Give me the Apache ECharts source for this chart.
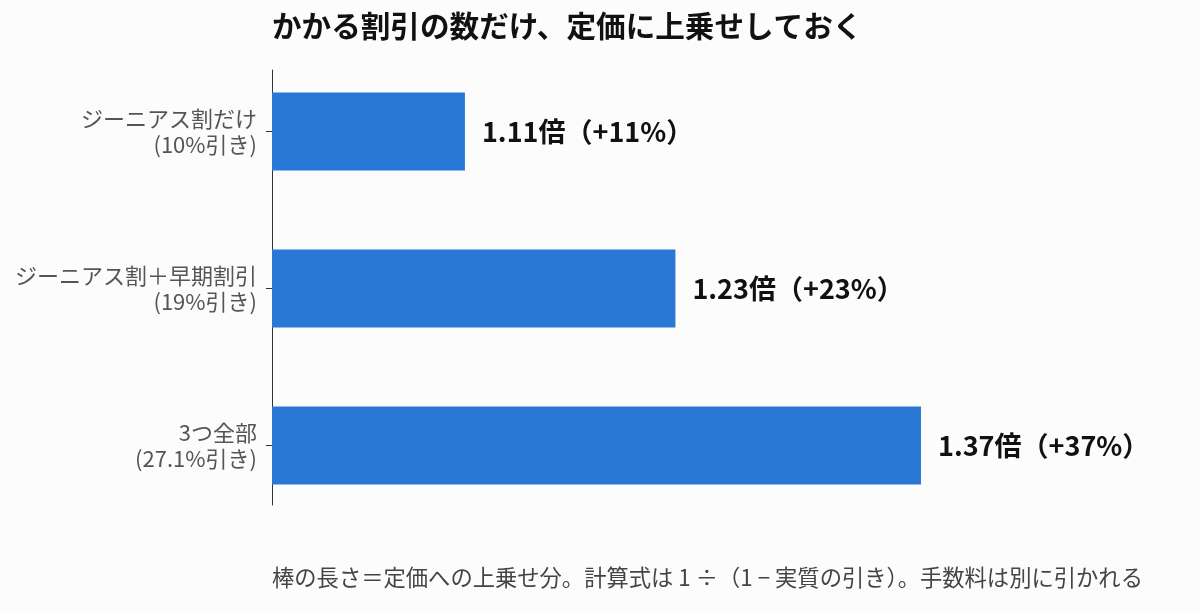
<!DOCTYPE html>
<html>
<head>
<meta charset="utf-8">
<script src="https://cdn.jsdelivr.net/npm/echarts@6/dist/echarts.min.js"></script>
<style>
	html, body { margin: 0; padding: 0; background: #fcfcfc; }
	#chart { width: 1200px; height: 611px; }
</style>
</head>
<body>
<div id="chart"></div>
<script>
// 項目名（2行）
var categories = ['ジーニアス割だけ\n(10%引き)', 'ジーニアス割＋早期割引\n(19%引き)', '3つ全部\n(27.1%引き)'];
// 定価への上乗せ分（%）
var surcharge = [11, 23, 37];
// 倍率
var multiplier = ['1.11', '1.23', '1.37'];

var titleText = 'かかる割引の数だけ、定価に上乗せしておく';
var noteText = '棒の長さ＝定価への上乗せ分。計算式は 1 ÷（1 − 実質の引き）。手数料は別に引かれる';

var font = '"Noto Sans CJK JP", "Noto Sans", sans-serif';

var chart = echarts.init(document.getElementById('chart'));
var option = {
	backgroundColor: '#fcfcfc',
	textStyle: { fontFamily: font },
	title: [{
		text: titleText,
		left: 267,
		top: 6,
		padding: [5, 5],
		textStyle: { fontSize: 29.6, fontWeight: 'bold', color: '#111', fontFamily: font }
	}, {
		text: noteText,
		left: 267,
		top: 561,
		textStyle: { fontSize: 22.3, fontWeight: 'normal', color: '#444', fontFamily: font }
	}],
	grid: [
		{ left: 272, top: 53, height: 471, width: 877 },
		// 縦軸の線だけ描くためのグリッド
		{ left: 272, top: 70, height: 435, width: 877 }
	],
	xAxis: [
		{ type: 'value', min: 0, max: 50, show: false, gridIndex: 0 },
		{ type: 'value', show: false, gridIndex: 1 }
	],
	yAxis: [{
		type: 'category',
		gridIndex: 0,
		data: categories,
		inverse: true,
		axisLine: { show: false },
		axisTick: { show: true, alignWithLabel: true, length: 6, lineStyle: { color: '#333' } },
		axisLabel: { color: '#555', fontSize: 22, lineHeight: 26, margin: 15, fontFamily: font }
	}, {
		type: 'value',
		gridIndex: 1,
		axisLine: { show: true, lineStyle: { color: '#333', width: 1 } },
		axisTick: { show: false },
		axisLabel: { show: false },
		splitLine: { show: false }
	}],
	series: [{
		type: 'bar',
		xAxisIndex: 0,
		yAxisIndex: 0,
		data: surcharge,
		barWidth: 78,
		itemStyle: { color: '#2a78d5' },
		label: {
			show: true,
			position: 'right',
			distance: 17,
			color: '#111',
			fontSize: 27,
			fontWeight: 'bold',
			fontFamily: font,
			formatter: function (p) {
				return multiplier[p.dataIndex] + '倍（+' + p.value + '%）';
			}
		}
	}]
};
chart.setOption(option);
</script>
</body>
</html>
